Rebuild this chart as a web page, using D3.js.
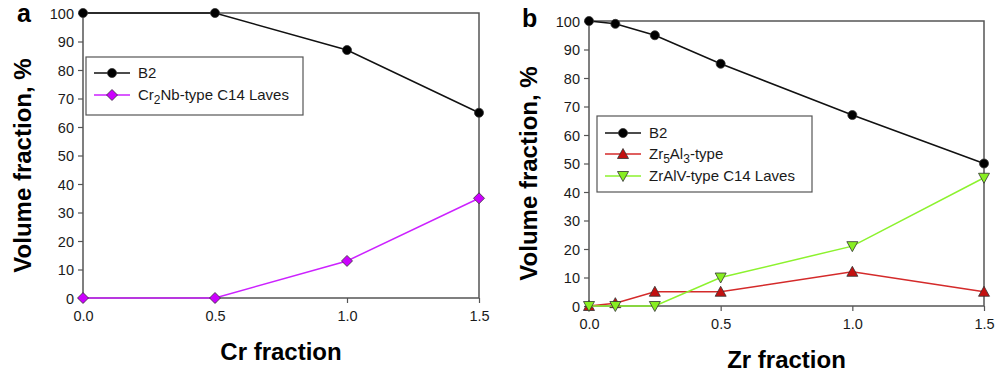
<!DOCTYPE html>
<html>
<head>
<meta charset="utf-8">
<script src="https://cdn.jsdelivr.net/npm/d3@7"></script>
<style>
  body { margin: 0; background: #fff; }
  svg { font-family: "Liberation Sans", Arial, sans-serif; }
</style>
</head>
<body>
<svg id="chart" width="995" height="376"></svg>
<script>
// panel a
const crFraction = [0, 0.5, 1.0, 1.5]
const crB2 = [100, 100, 87, 65]
const crLaves = [0, 0, 13, 35]

// panel b
const zrFraction = [0, 0.1, 0.25, 0.5, 1.0, 1.5]
const zrB2 = [100, 99, 95, 85, 67, 50]
const zrZr5Al3 = [0, 1, 5, 5, 12, 5]
const zrLaves = [0, 0, 0, 10, 21, 45]

const xTicks = [0, 0.5, 1.0, 1.5]
const yTicks = [0, 10, 20, 30, 40, 50, 60, 70, 80, 90, 100]

const svg = d3.select("#chart")

const drawPanel = (opt) => {
  const g = svg.append("g")
  const x = d3.scaleLinear().domain([0, 1.5]).range([opt.left, opt.right])
  const y = d3.scaleLinear().domain([0, 100]).range([opt.bottom, opt.top])

  // frame
  g.append("rect")
    .attr("x", opt.left)
    .attr("y", opt.top)
    .attr("width", opt.right - opt.left)
    .attr("height", opt.bottom - opt.top)
    .attr("fill", "none")
    .attr("stroke", "#555")
    .attr("stroke-width", 1.5)

  const xAxis = g.append("g")
    .attr("transform", `translate(0,${opt.bottom})`)
    .call(d3.axisBottom(x).tickValues(xTicks).tickFormat(d3.format(".1f")).tickSize(5).tickPadding(8))
  const yAxis = g.append("g")
    .attr("transform", `translate(${opt.left},0)`)
    .call(d3.axisLeft(y).tickValues(yTicks).tickSize(5).tickPadding(4))
  ;[xAxis, yAxis].forEach((a) => {
    a.select(".domain").remove()
    a.selectAll("line").attr("stroke", "#555").attr("stroke-width", 1.2)
    a.selectAll("text")
      .attr("fill", "#1a1a1a")
      .style("font-size", "14.5px")
      .style("font-family", "'Liberation Sans', Arial, sans-serif")
  })
  yAxis.selectAll("text").attr("dy", "0.36em")

  g.append("text")
    .attr("x", (opt.left + opt.right) / 2)
    .attr("y", opt.bottom + 62)
    .attr("text-anchor", "middle")
    .style("font-size", "24px")
    .style("font-weight", "bold")
    .text(opt.xTitle)

  g.append("text")
    .attr("transform", `translate(${opt.left - 52},${(opt.top + opt.bottom) / 2 + 10}) rotate(-90)`)
    .attr("text-anchor", "middle")
    .style("font-size", "24px")
    .style("font-weight", "bold")
    .text("Volume fraction, %")

  g.append("text")
    .attr("x", opt.labelX)
    .attr("y", opt.labelY)
    .style("font-size", "25px")
    .style("font-weight", "bold")
    .text(opt.label)

  const line = d3.line()
    .x((d) => x(d[0]))
    .y((d) => y(d[1]))

  opt.series.forEach((s) => {
    const pts = opt.xs.map((v, i) => [v, s.values[i]])
    g.append("path")
      .datum(pts)
      .attr("d", line)
      .attr("fill", "none")
      .attr("stroke", s.line)
      .attr("stroke-width", 1.5)
    g.selectAll(null)
      .data(pts)
      .enter()
      .append("path")
      .attr("transform", (d) => `translate(${x(d[0])},${y(d[1])})`)
      .attr("d", markerPath(s.marker))
      .attr("fill", s.fill)
      .attr("stroke", "#333")
      .attr("stroke-width", 0.8)
  })

  // legend
  const lg = g.append("g")
  lg.append("rect")
    .attr("x", opt.legend.x)
    .attr("y", opt.legend.y)
    .attr("width", opt.legend.w)
    .attr("height", opt.legend.h)
    .attr("fill", "#fff")
    .attr("stroke", "#555")
    .attr("stroke-width", 1.2)
  opt.series.forEach((s, i) => {
    const ly = opt.legend.rows[i]
    const lx = opt.legend.x + 8
    lg.append("line")
      .attr("x1", lx).attr("x2", lx + 36)
      .attr("y1", ly).attr("y2", ly)
      .attr("stroke", s.line)
      .attr("stroke-width", 1.5)
    lg.append("path")
      .attr("transform", `translate(${lx + 18},${ly})`)
      .attr("d", markerPath(s.marker))
      .attr("fill", s.fill)
      .attr("stroke", "#333")
      .attr("stroke-width", 0.8)
    const t = lg.append("text")
      .attr("x", lx + 44)
      .attr("y", ly + 5)
      .style("font-size", "15px")
      .attr("fill", "#1a1a1a")
    let shift = 0
    s.name.forEach((part) => {
      if (part.sub) {
        t.append("tspan").attr("dy", 4 - shift).style("font-size", "12px").text(part.sub)
        shift = 4
      } else {
        t.append("tspan").attr("dy", -shift).text(part.t)
        shift = 0
      }
    })
  })
}

function markerPath(kind) {
  if (kind === "circle") return d3.symbol(d3.symbolCircle, 64)()
  if (kind === "diamond") return "M0,-5.5L5.5,0L0,5.5L-5.5,0Z"
  if (kind === "up") return "M0,-5.5L5.5,4.5L-5.5,4.5Z"
  return "M0,5.5L5.5,-4.5L-5.5,-4.5Z"
}

drawPanel({
  left: 83, right: 479, top: 13, bottom: 298,
  xTitle: "Cr fraction", label: "a", labelX: 17, labelY: 22,
  xs: crFraction,
  series: [
    { name: [{ t: "B2" }], values: crB2, line: "#111", fill: "#000", marker: "circle" },
    { name: [{ t: "Cr" }, { sub: "2" }, { t: "Nb-type C14 Laves" }], values: crLaves, line: "#cc22ff", fill: "#cc00ff", marker: "diamond" },
  ],
  legend: { x: 86, y: 57, w: 217, h: 58, rows: [73, 95] },
})

drawPanel({
  left: 589, right: 984, top: 21, bottom: 306,
  xTitle: "Zr fraction", label: "b", labelX: 522, labelY: 27,
  xs: zrFraction,
  series: [
    { name: [{ t: "B2" }], values: zrB2, line: "#111", fill: "#000", marker: "circle" },
    { name: [{ t: "Zr" }, { sub: "5" }, { t: "Al" }, { sub: "3" }, { t: "-type" }], values: zrZr5Al3, line: "#d42a2a", fill: "#c41010", marker: "up" },
    { name: [{ t: "ZrAlV-type C14 Laves" }], values: zrLaves, line: "#8cf22e", fill: "#88ee22", marker: "down" },
  ],
  legend: { x: 597, y: 116, w: 215, h: 76, rows: [133, 154, 176] },
})
</script>
</body>
</html>
